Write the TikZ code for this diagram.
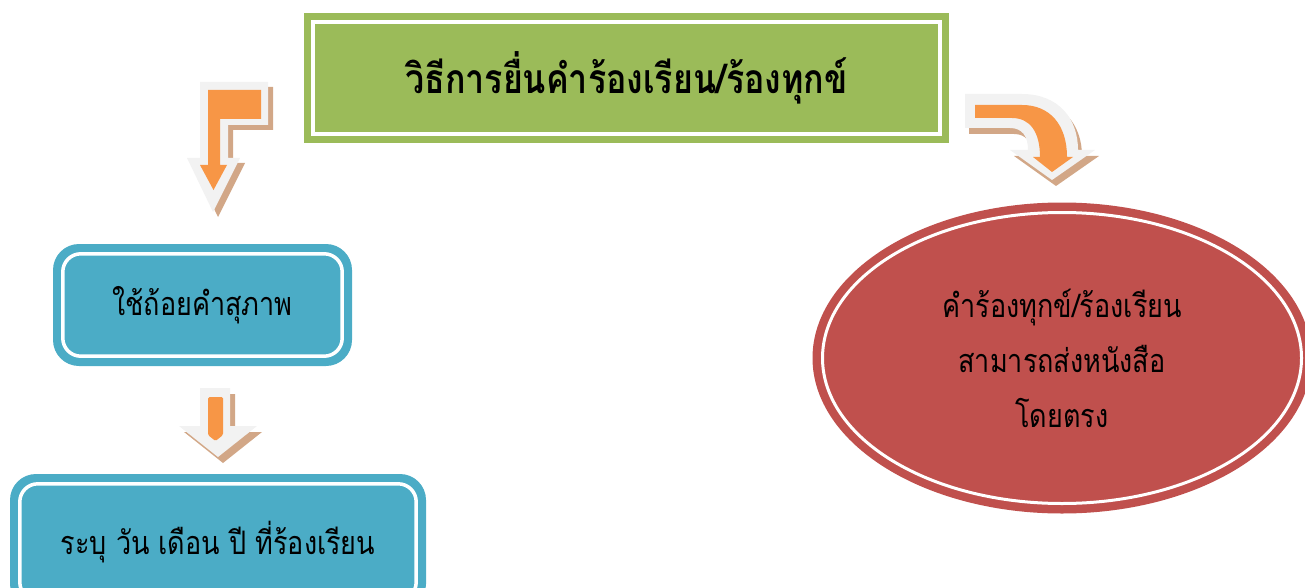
\documentclass[tikz,border=0pt]{standalone}
\usepackage{fontspec}
\usepackage{graphicx}
\newfontfamily\thaifont[Script=Thai]{Loma}
\usetikzlibrary{shapes.geometric}
\definecolor{tgreen}{HTML}{9BBB59}
\definecolor{tblue}{HTML}{4BACC6}
\definecolor{tred}{HTML}{C0504D}
\definecolor{torange}{HTML}{F79646}
\definecolor{tedge}{HTML}{F2F2F2}
\definecolor{tshadow}{HTML}{D2A787}
\newcommand{\tall}[1]{\scalebox{1}[1.2]{#1}}
\tikzset{
  titlebox/.style={rectangle, fill=tgreen, minimum width=645pt, minimum height=130pt, inner sep=0pt, font=\thaifont\bfseries\fontsize{34}{40}\selectfont},
  stepbox/.style={rectangle, rounded corners=26pt, fill=tblue, inner sep=0pt, font=\thaifont\fontsize{27}{32}\selectfont},
  ovalbox/.style={ellipse, fill=tred, inner sep=0pt, align=center, font=\thaifont\fontsize{27}{55}\selectfont},
  innerline/.style={draw=white, line width=3.5pt},
  arredge/.style={fill=tedge},
  arrshadow/.style={fill=tshadow},
  arrcore/.style={fill=torange},
}
\begin{document}
\begin{tikzpicture}[x=1pt,y=-1pt]
\useasboundingbox (0,0) rectangle (1305,588);
\clip (0,0) rectangle (1305,588);
% title
\node[titlebox] (title) at (626.5,78) {\tall{วิธีการยื่นคำร้องเรียน/ร้องทุกข์}};
\draw[innerline, line width=4pt] ([shift={(9,9)}]title.north west) rectangle ([shift={(-9,-9)}]title.south east);
% left boxes
\node[stepbox, minimum width=299pt, minimum height=122pt] (polite) at (202.5,305) {\tall{ใช้ถ้อยคำสุภาพ}};
\draw[innerline, rounded corners=18pt] ([shift={(10,10)}]polite.north west) rectangle ([shift={(-10,-10)}]polite.south east);
\node[stepbox, minimum width=416pt, minimum height=136pt] (date) at (218,542) {\tall{ระบุ วัน เดือน ปี ที่ร้องเรียน}};
\draw[innerline, rounded corners=18pt] ([shift={(10,10)}]date.north west) rectangle ([shift={(-10,-10)}]date.south east);
% ellipse
\node[ovalbox, minimum width=499pt, minimum height=311pt] (direct) at (1062,358) {\tall{คำร้องทุกข์/ร้องเรียน}\\\tall{สามารถส่งหนังสือ}\\\tall{โดยตรง}};
\node[ellipse, draw=white, line width=3pt, minimum width=479pt, minimum height=291pt, inner sep=0pt] (directring) at (direct.center) {};
% arrow 1 (bent, down)
\fill[arrshadow, shift={(5,5)}] (268,82) -- (200,82) -- (200,158) -- (187,158) -- (213,212) -- (240,158) -- (228,158) -- (228,125) -- (268,125) -- cycle;
\fill[arredge] (268,82) -- (200,82) -- (200,158) -- (187,158) -- (213,212) -- (240,158) -- (228,158) -- (228,125) -- (268,125) -- cycle;
\fill[arrcore] (261,90) -- (208,90) -- (208,165) -- (200,165) -- (213.5,190) -- (227,165) -- (220,165) -- (220,119) -- (261,119) -- cycle;
% arrow 2 (small down)
\fill[arrshadow, shift={(5,6)}] (200,388) -- (200,426) -- (179,426) -- (218,457) -- (257,426) -- (230,426) -- (230,388) -- cycle;
\fill[arredge] (200,388) -- (200,426) -- (179,426) -- (218,457) -- (257,426) -- (230,426) -- (230,388) -- cycle;
\fill[arrcore, rounded corners=1.5pt] (208,397) -- (208,435) -- (215.5,441) -- (223,435) -- (223,397) -- cycle;
% arrow 3 (curved, right then down)
\fill[arrshadow, shift={(4,6)}] (965,94) -- (1022,94) .. controls (1058,94) and (1078,118) .. (1078,150) -- (1095,150) -- (1052,180) -- (1010,150) -- (1028,150) .. controls (1028,136) and (1022,128) .. (1010,128) -- (965,128) -- cycle;
\fill[arredge] (965,94) -- (1022,94) .. controls (1058,94) and (1078,118) .. (1078,150) -- (1095,150) -- (1052,180) -- (1010,150) -- (1028,150) .. controls (1028,136) and (1022,128) .. (1010,128) -- (965,128) -- cycle;
\fill[arrcore] (975,105) -- (1022,105) .. controls (1050,105) and (1067,125) .. (1067,157) -- (1073,157) -- (1052,172) -- (1033,157) -- (1040,157) .. controls (1040,132) and (1030,118) .. (1012,118) -- (975,118) -- cycle;
\end{tikzpicture}
\end{document}
